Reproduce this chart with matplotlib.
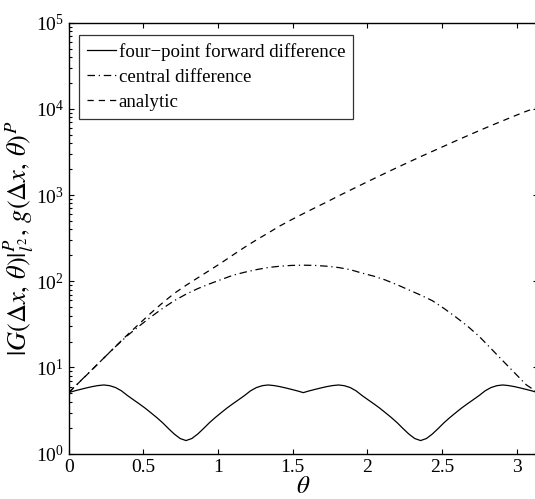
import numpy as np
import matplotlib
matplotlib.use("Agg")
import matplotlib.pyplot as plt
from matplotlib.ticker import LogLocator, NullFormatter

plt.rcParams["font.family"] = ["Liberation Serif", "DejaVu Serif"]
plt.rcParams["mathtext.fontset"] = "stix"

# theta grids (x data)
THETA_FWD = np.linspace(0, np.pi, 81)
THETA_CEN = np.linspace(0, np.pi, 41)
THETA_ANA = np.linspace(0, np.pi, 41)

# four-point forward difference, |G|^P
FWD = [5.11, 5.35, 5.57, 5.79, 6.00, 6.17, 6.27, 6.15, 5.85, 5.36,
       4.74, 4.24, 3.80, 3.39, 2.99, 2.63, 2.29, 1.96, 1.69, 1.50,
       1.42,
       1.50, 1.69, 1.96, 2.29, 2.63, 2.99, 3.39, 3.80, 4.24, 4.74,
       5.36, 5.85, 6.15, 6.27, 6.17, 6.00, 5.79, 5.57, 5.35, 5.11,
       5.35, 5.57, 5.79, 6.00, 6.17, 6.27, 6.15, 5.85, 5.36, 4.74,
       4.24, 3.80, 3.39, 2.99, 2.63, 2.29, 1.96, 1.69, 1.50, 1.42,
       1.50, 1.69, 1.96, 2.29, 2.63, 2.99, 3.39, 3.80, 4.24, 4.74,
       5.36, 5.85, 6.15, 6.27, 6.17, 6.00, 5.79, 5.57, 5.35, 5.11]

# central difference
CEN = [5.11, 6.97, 9.48, 12.9, 17.5, 23.4, 30.2, 38.5, 48.4, 59.6,
       70.8, 82.2, 93.3, 104.7, 117.5, 127.4, 136.5, 144.5, 149.6, 152.8,
       153.8,
       152.8, 149.6, 144.5, 136.5, 124.5, 114.8, 103.5, 91.2, 79.4, 69.2,
       59.6, 48.4, 38.5, 30.2, 22.9, 16.6, 12.0, 8.71, 6.31, 5.11]

# analytic
ANA = [5.11, 6.95, 9.44, 12.9, 17.6, 23.9, 32.0, 42.7, 56.2, 72.4,
       89.7, 109.6, 133.7, 163.3, 201.8, 248.3, 302.0, 363.1, 438.5, 518.8,
       609.5, 712.9, 831.8, 977.2, 1140, 1330, 1549, 1799, 2089, 2415,
       2793, 3214, 3698, 4256, 4887, 5598, 6397, 7278, 8279, 9376, 10470]

LABELS = ["four\u2212point forward difference", "central difference", "analytic"]

fig = plt.figure(figsize=(5.35, 4.99), dpi=100)
ax = fig.add_axes([0.1284, 0.0908, 0.877, 0.8637])

ax.plot(THETA_FWD, FWD, "-", color="black", lw=0.9, label=LABELS[0])
ax.plot(THETA_CEN, CEN, color="black", lw=0.9, dashes=(6, 3, 1, 3), label=LABELS[1])
ax.plot(THETA_ANA, ANA, color="black", lw=0.9, dashes=(5, 4), label=LABELS[2])

ax.set_yscale("log")
ax.set_xlim(0, np.pi)
ax.set_ylim(1, 1e5)
ax.set_xticks([0, 0.5, 1, 1.5, 2, 2.5, 3])
ax.set_xticklabels(["0", "0.5", "1", "1.5", "2", "2.5", "3"])
ax.yaxis.set_major_locator(LogLocator(base=10, numticks=10))
ax.yaxis.set_minor_locator(LogLocator(base=10, subs=np.arange(2, 10), numticks=20))
ax.yaxis.set_minor_formatter(NullFormatter())

ax.tick_params(which="both", direction="in", top=True, right=True, labelsize=14,
               width=0.8)
ax.tick_params(which="major", length=3.6)
ax.tick_params(which="minor", length=1.9)
for s in ax.spines.values():
    s.set_linewidth(1.0)

ax.set_xlabel(r"$\theta$", fontsize=18)
ax.xaxis.set_label_coords(0.5, -0.052)
ax.set_ylabel(r"$|G(\Delta x,\, \theta)|_{l^2}^P,\, g(\Delta x,\, \theta)^P$", fontsize=19)
ax.yaxis.set_label_coords(-0.069, 0.5)

leg = ax.legend(loc="upper left", bbox_to_anchor=(0.0224, 0.971), fontsize=13.6,
                frameon=True, fancybox=False, handlelength=1.55, handletextpad=0.15,
                borderpad=0.4, labelspacing=0.42, borderaxespad=0)
leg.get_frame().set_edgecolor("black")
leg.get_frame().set_linewidth(0.9)

fig.savefig("out.png", dpi=100)
